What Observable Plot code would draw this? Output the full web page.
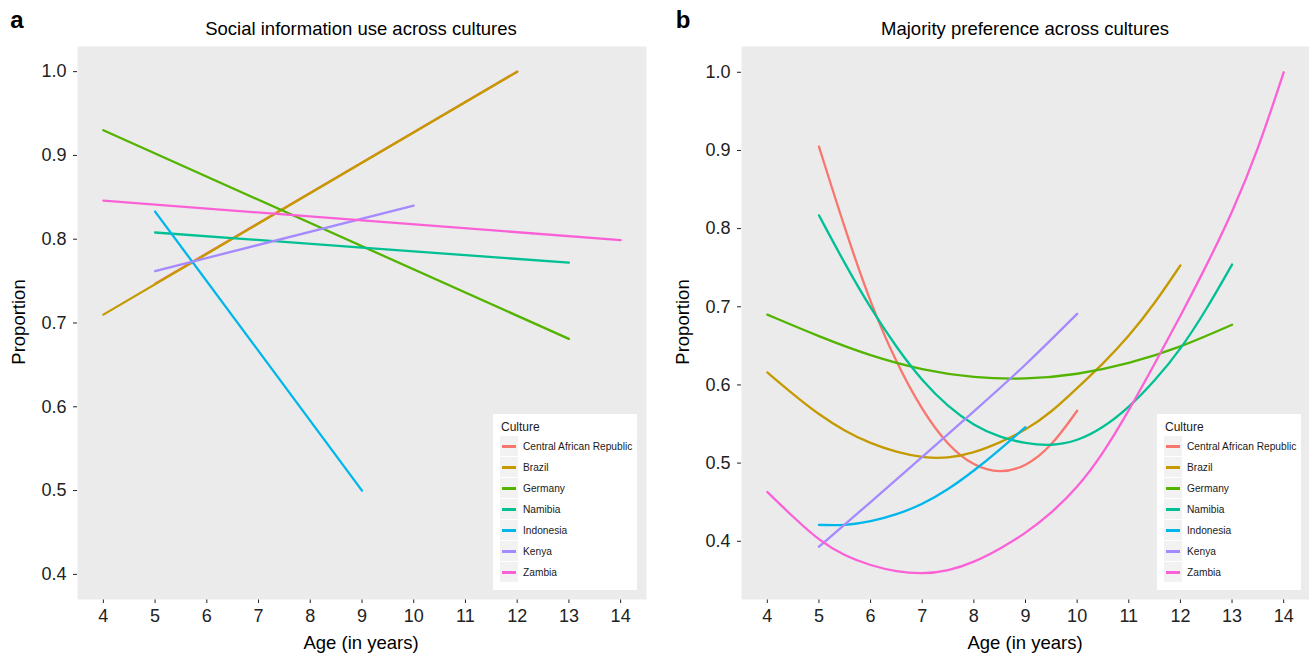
<!DOCTYPE html>
<html><head><meta charset="utf-8">
<script src="https://cdn.jsdelivr.net/npm/d3@7"></script>
<script src="https://cdn.jsdelivr.net/npm/@observablehq/plot@0.6"></script>
<style>
body{margin:0;background:#fff;font-family:"Liberation Sans",Arial,Helvetica,sans-serif;}
#wrap{position:relative;width:1309px;height:654px;overflow:hidden;background:#fff;}
.abs{position:absolute;white-space:nowrap;color:#000;line-height:1;}
.ctr{transform:translate(-50%,-50%);}
.plot{position:absolute;top:0;}
.legend{position:absolute;background:#fff;}
.legend .lt{position:absolute;left:8px;top:6px;font-size:12px;color:#1a1a1a;}
.legend .key{position:absolute;left:7px;width:18px;height:20px;background:#F2F2F2;}
.legend .key span{position:absolute;left:2px;right:2px;top:9px;height:2.6px;}
.legend .lab{position:absolute;left:30px;font-size:10.2px;color:#1a1a1a;transform:translateY(-50%);}
</style></head><body><div id="wrap"></div>
<script>
const cultures = ["Central African Republic","Brazil","Germany","Namibia","Indonesia","Kenya","Zambia"];
const hueColors = ["#F8766D","#C49A00","#53B400","#00C094","#00B6EB","#A58AFF","#FB61D7"];
const ageTicks = [4,5,6,7,8,9,10,11,12,13,14];
const propTicks = [0.4,0.5,0.6,0.7,0.8,0.9,1.0];

// Panel a: social information use (age, proportion)
const socialCAR       = [[5,0.747],[12,1.0]];
const socialBrazil    = [[4,0.710],[12,1.0]];
const socialGermany   = [[4,0.930],[13,0.681]];
const socialNamibia   = [[5,0.808],[9,0.790],[13,0.772]];
const socialIndonesia = [[5,0.833],[9,0.500]];
const socialKenya     = [[5,0.762],[10,0.840]];
const socialZambia    = [[4,0.846],[14,0.799]];

// Panel b: majority preference (age, proportion)
const majorityCAR = [[5,0.905],[5.5,0.800],[6,0.704],[6.5,0.628],[7,0.567],[7.5,0.522],[8,0.496],[8.5,0.487],[9,0.495],[9.5,0.521],[10,0.567]];
const majorityBrazil = [[4,0.616],[4.5,0.588],[5,0.562],[5.5,0.541],[6,0.525],[6.5,0.514],[7,0.507],[7.5,0.506],[8,0.513],[8.5,0.526],[9,0.542],[9.5,0.565],[10,0.596],[10.5,0.627],[11,0.662],[11.5,0.704],[12,0.753]];
const majorityGermany = [[4,0.690],[5,0.662],[6,0.637],[7,0.619],[8,0.609],[9,0.607],[10,0.613],[11,0.627],[12,0.648],[13,0.677]];
const majorityNamibia = [[5,0.817],[5.5,0.755],[6,0.698],[6.5,0.648],[7,0.605],[7.5,0.572],[8,0.548],[8.5,0.533],[9,0.525],[9.5,0.522],[10,0.528],[10.5,0.545],[11,0.571],[11.5,0.605],[12,0.645],[12.5,0.696],[13,0.754]];
const majorityIndonesia = [[5,0.421],[5.5,0.420],[6,0.425],[6.5,0.434],[7,0.447],[7.5,0.466],[8,0.490],[8.5,0.517],[9,0.546]];
const majorityKenya = [[5,0.393],[6,0.450],[7,0.508],[8,0.566],[9,0.625],[10,0.691]];
const majorityZambia = [[4,0.463],[4.5,0.431],[5,0.401],[5.5,0.381],[6,0.369],[6.5,0.361],[7,0.358],[7.5,0.362],[8,0.373],[8.5,0.390],[9,0.410],[9.5,0.436],[10,0.468],[10.5,0.512],[11,0.567],[11.5,0.627],[12,0.688],[12.5,0.752],[13,0.820],[13.5,0.900],[14,1.0]];

const toRows = (lists) => lists.flatMap((pairs, i) => pairs.map(([age, p]) => ({culture: cultures[i], age, p})));
const dataA = toRows([socialCAR, socialBrazil, socialGermany, socialNamibia, socialIndonesia, socialKenya, socialZambia]);
const dataB = toRows([majorityCAR, majorityBrazil, majorityGermany, majorityNamibia, majorityIndonesia, majorityKenya, majorityZambia]);

const wrap = document.getElementById("wrap");

function panel(data, opts) {
  const svg = Plot.plot({
    width: opts.width, height: 654,
    marginLeft: opts.ml, marginRight: opts.mr, marginTop: 46, marginBottom: 55,
    style: {fontSize: "18px", fontFamily: '"Liberation Sans", Arial, Helvetica, sans-serif', color: "#222", background: "transparent"},
    x: {domain: [3.5, 14.5], ticks: ageTicks, tickSize: 4, tickPadding: 6, label: null},
    y: {domain: opts.ydom, ticks: propTicks, tickFormat: d => d.toFixed(1), tickSize: 4, tickPadding: 7, label: null},
    color: {domain: cultures, range: hueColors},
    marks: [
      Plot.frame({fill: "#EBEBEB", stroke: "none"}),
      Plot.line(data, {x: "age", y: "p", z: "culture", stroke: "culture", strokeWidth: 2.3, curve: opts.curve})
    ]
  });
  svg.classList.add("plot");
  svg.style.left = opts.left + "px";
  wrap.appendChild(svg);
}

panel(dataA, {width: 660, left: 0, ml: 77, mr: 14, ydom: [0.37, 1.03], curve: "linear"});
panel(dataB, {width: 649, left: 660, ml: 81, mr: 0, ydom: [0.3255, 1.033], curve: "basis"});

function text(str, x, y, css) {
  const d = document.createElement("div");
  d.className = "abs ctr";
  d.textContent = str;
  d.style.left = x + "px"; d.style.top = y + "px";
  Object.assign(d.style, css || {});
  wrap.appendChild(d);
  return d;
}
text("a", 17, 20, {fontSize: "24px", fontWeight: "bold"});
text("b", 683, 20, {fontSize: "24px", fontWeight: "bold"});
text("Social information use across cultures", 361, 29, {fontSize: "18.5px"});
text("Majority preference across cultures", 1025, 29, {fontSize: "18.5px"});
text("Age (in years)", 361, 643, {fontSize: "18.5px"});
text("Age (in years)", 1025, 643, {fontSize: "18.5px"});
text("Proportion", 19, 322, {fontSize: "18.5px", transform: "translate(-50%,-50%) rotate(-90deg)"});
text("Proportion", 683, 322, {fontSize: "18.5px", transform: "translate(-50%,-50%) rotate(-90deg)"});

function legend(left) {
  const box = document.createElement("div");
  box.className = "legend";
  Object.assign(box.style, {left: left + "px", top: "414px", width: "144px", height: "176px"});
  const t = document.createElement("div");
  t.className = "lt"; t.textContent = "Culture";
  box.appendChild(t);
  cultures.forEach((c, i) => {
    const k = document.createElement("div");
    k.className = "key"; k.style.top = (22 + i * 21) + "px";
    const s = document.createElement("span"); s.style.background = hueColors[i];
    k.appendChild(s); box.appendChild(k);
    const l = document.createElement("div");
    l.className = "lab"; l.textContent = c; l.style.top = (32 + i * 21) + "px";
    box.appendChild(l);
  });
  wrap.appendChild(box);
}
legend(493);
legend(1157);
</script></body></html>
